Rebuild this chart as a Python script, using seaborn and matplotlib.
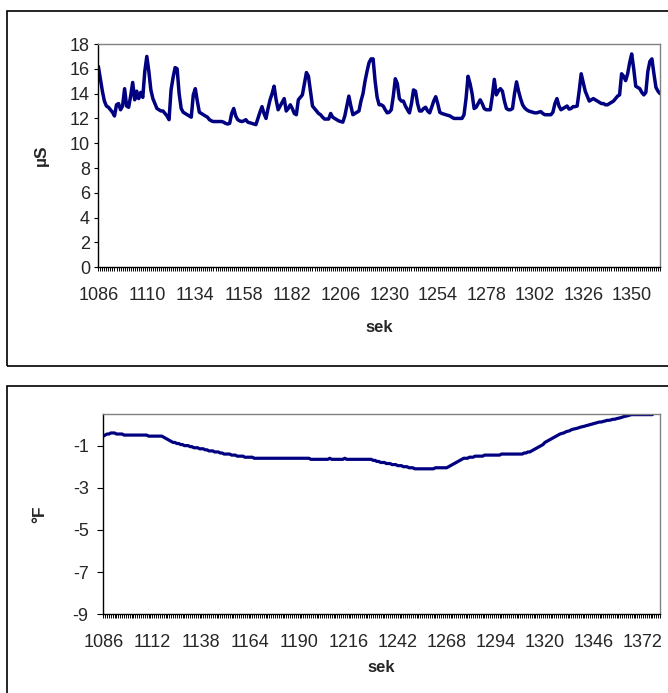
import matplotlib
matplotlib.use('Agg')
import matplotlib.pyplot as plt
import seaborn as sns
import pandas as pd
from matplotlib.patches import Rectangle
from matplotlib.ticker import MultipleLocator

# conductividad (µS) por segundo, desde 1086
us_vals = [
    16.2, 15.2, 14.2, 13.4, 13.0, 12.9, 12.7, 12.5, 12.2, 13.1,
    13.2, 12.7, 13.0, 14.4, 13.0, 12.9, 13.8, 14.9, 13.5, 14.2,
    13.6, 14.1, 13.7, 15.8, 17.0, 15.8, 14.3, 13.6, 13.2, 12.8,
    12.7, 12.6, 12.6, 12.4, 12.2, 11.9, 14.3, 15.3, 16.1, 16.0,
    14.0, 12.8, 12.5, 12.4, 12.3, 12.2, 12.1, 13.9, 14.4, 13.4,
    12.5, 12.4, 12.3, 12.2, 12.1, 11.9, 11.8, 11.75, 11.75, 11.75,
    11.75, 11.75, 11.7, 11.6, 11.55, 11.6, 12.4, 12.8, 12.2, 11.9,
    11.8, 11.75, 11.8, 11.9, 11.7, 11.65, 11.6, 11.55, 11.5, 12.0,
    12.5, 12.95, 12.4, 12.0, 12.8, 13.5, 14.0, 14.6, 13.5, 12.7,
    13.0, 13.3, 13.6, 12.6, 12.8, 13.1, 12.8, 12.4, 12.3, 13.5,
    13.7, 13.9, 14.8, 15.7, 15.4, 14.2, 13.0, 12.8, 12.6, 12.4,
    12.3, 12.1, 11.95, 11.95, 11.95, 12.4, 12.1, 12.0, 11.9, 11.8,
    11.75, 11.7, 12.2, 13.0, 13.8, 13.0, 12.3, 12.4, 12.5, 12.6,
    13.4, 14.0, 15.0, 15.8, 16.5, 16.8, 16.8, 15.0, 13.7, 13.1,
    13.1, 13.0, 12.7, 12.45, 12.5, 12.7, 13.8, 15.2, 14.8, 13.6,
    13.4, 13.4, 13.0, 12.7, 12.45, 13.2, 14.3, 14.2, 13.2, 12.6,
    12.6, 12.8, 12.9, 12.6, 12.45, 12.9, 13.4, 13.75, 13.2, 12.5,
    12.4, 12.35, 12.3, 12.25, 12.2, 12.1, 12.0, 12.0, 12.0, 12.0,
    12.0, 12.3, 13.6, 15.4, 14.8, 14.0, 12.8, 12.9, 13.2, 13.5,
    13.2, 12.8, 12.7, 12.7, 12.7, 13.8, 15.15, 13.9, 14.2, 14.4,
    14.2, 13.4, 12.8, 12.7, 12.7, 12.8, 14.0, 14.95, 14.2, 13.6,
    13.1, 12.85, 12.7, 12.6, 12.55, 12.5, 12.45, 12.45, 12.5, 12.55,
    12.4, 12.3, 12.3, 12.3, 12.3, 12.5, 13.2, 13.6, 13.0, 12.7,
    12.8, 12.9, 13.0, 12.75, 12.8, 12.95, 12.95, 13.0, 14.2, 15.6,
    14.9, 14.2, 13.8, 13.4, 13.5, 13.6, 13.5, 13.4, 13.3, 13.2,
    13.2, 13.1, 13.1, 13.2, 13.3, 13.4, 13.6, 13.8, 13.9, 15.6,
    15.4, 15.05, 15.6, 16.5, 17.2, 16.0, 14.6, 14.5, 14.4, 14.1,
    13.9, 14.1, 15.8, 16.6, 16.8, 15.6, 14.5, 14.2, 14.0,
]

# temperatura (°F) por segundo, desde 1086
f_vals = [
    -0.55, -0.5, -0.45, -0.45, -0.4, -0.4, -0.4, -0.45, -0.45, -0.45, -0.45, -0.5,
    -0.5, -0.5, -0.5, -0.5, -0.5, -0.5, -0.5, -0.5, -0.5, -0.5, -0.5, -0.5,
    -0.55, -0.55, -0.55, -0.55, -0.55, -0.55, -0.55, -0.55,
    -0.6, -0.65, -0.7, -0.75, -0.8, -0.85, -0.85, -0.9,
    -0.9, -0.95, -0.95, -1.0, -1.0, -1.0, -1.05, -1.05, -1.1, -1.1, -1.1, -1.15, -1.15, -1.15,
    -1.2, -1.2, -1.25, -1.25, -1.25, -1.3, -1.3, -1.3, -1.35, -1.35, -1.4, -1.4, -1.4, -1.4,
    -1.45, -1.45, -1.45, -1.5, -1.5, -1.5, -1.5, -1.55, -1.55, -1.55, -1.55, -1.55, -1.6, -1.6, -1.6,
    -1.6, -1.6, -1.6, -1.6, -1.6, -1.6, -1.6, -1.6, -1.6, -1.6, -1.6, -1.6, -1.6, -1.6,
    -1.6, -1.6, -1.6, -1.6, -1.6, -1.6, -1.6, -1.6, -1.6, -1.6, -1.6, -1.6, -1.6,
    -1.65, -1.65, -1.65, -1.65, -1.65, -1.65, -1.65, -1.65, -1.65, -1.65,
    -1.6,
    -1.65, -1.65, -1.65, -1.65, -1.65, -1.65, -1.65,
    -1.6,
    -1.65, -1.65, -1.65, -1.65, -1.65, -1.65, -1.65, -1.65, -1.65, -1.65, -1.65, -1.65, -1.65, -1.65,
    -1.7, -1.7, -1.75, -1.75, -1.8, -1.8, -1.8, -1.85, -1.85, -1.85, -1.9, -1.9,
    -1.9, -1.95, -1.95, -1.95, -2.0, -2.0, -2.0, -2.05, -2.05, -2.05, -2.1, -2.1, -2.1,
    -2.1, -2.1, -2.1, -2.1, -2.1, -2.1, -2.1, -2.1,
    -2.05, -2.05, -2.05, -2.05, -2.05, -2.05, -2.05,
    -2.0, -1.95, -1.9, -1.85, -1.8, -1.75, -1.7, -1.65, -1.6, -1.6,
    -1.6, -1.55, -1.55, -1.55, -1.5, -1.5, -1.5, -1.5, -1.5,
    -1.45, -1.45, -1.45, -1.45, -1.45, -1.45, -1.45, -1.45, -1.45,
    -1.4, -1.4, -1.4, -1.4, -1.4, -1.4, -1.4, -1.4, -1.4, -1.4, -1.4, -1.4,
    -1.35, -1.35, -1.3, -1.3, -1.25, -1.2, -1.15, -1.1, -1.05, -1.0, -0.95,
    -0.85, -0.8, -0.75, -0.7, -0.65, -0.6, -0.55, -0.5, -0.45, -0.42,
    -0.4, -0.35, -0.32, -0.3, -0.25, -0.22, -0.2, -0.18, -0.15, -0.12, -0.1, -0.08,
    -0.05, -0.03, 0.0, 0.02, 0.05, 0.07, 0.1, 0.12,
    0.12, 0.15, 0.17, 0.2, 0.2, 0.22, 0.25, 0.25, 0.28,
    0.3, 0.32, 0.35, 0.38, 0.4, 0.42, 0.45,
    0.47, 0.47, 0.47, 0.47, 0.47, 0.47, 0.47, 0.47, 0.47, 0.47, 0.47, 0.47,
]

start = 1086
df_us = pd.DataFrame({'sek': range(start, start + len(us_vals)), 'val': us_vals})
df_f = pd.DataFrame({'sek': range(start, start + len(f_vals)), 'val': f_vals})

sns.set_style('white')
plt.rcParams['font.family'] = ['Liberation Sans', 'DejaVu Sans']
plt.rcParams['axes.unicode_minus'] = False

navy = '#000080'
fig = plt.figure(figsize=(6.68, 6.93), dpi=100)

# marcos exteriores de cada grafico (estilo Excel)
fig.add_artist(Rectangle((0.010, 0.4719), 1.2, 0.5127, transform=fig.transFigure,
                         fill=False, edgecolor='black', linewidth=1.2))
fig.add_artist(Rectangle((0.010, -0.2), 1.2, 0.643, transform=fig.transFigure,
                         fill=False, edgecolor='black', linewidth=1.2))

ax1 = fig.add_axes([0.1472, 0.6143, 0.8408, 0.3222])
ax2 = fig.add_axes([0.1546, 0.1136, 0.8334, 0.2890])


def excel_axes(ax, x_end, step, ytick_len, ypad):
    for side in ['top', 'right']:
        ax.spines[side].set_color('#808080')
        ax.spines[side].set_linewidth(1.0)
    for side in ['left', 'bottom']:
        ax.spines[side].set_color('black')
        ax.spines[side].set_linewidth(1.0)
    ax.set_xlim(start, x_end)
    ax.set_xticks(range(start, x_end + 1, step))
    ax.xaxis.set_minor_locator(MultipleLocator(1))
    ax.tick_params(axis='x', which='both', direction='out', length=3, width=0.7,
                   color='black', pad=11, labelsize=13, bottom=True)
    ax.tick_params(axis='y', which='major', direction='out', length=ytick_len, width=0.8,
                   color='black', pad=ypad, labelsize=13, left=True)
    ax.grid(False)


sns.lineplot(data=df_us, x='sek', y='val', ax=ax1, color=navy, linewidth=2.5)
excel_axes(ax1, start + len(us_vals) - 1, 24, 3, 3)
ax1.set_ylim(0, 18)
ax1.set_yticks(range(0, 19, 2))
ax1.set_xlabel('sek', fontsize=12, fontweight='bold')
ax1.set_ylabel('µS', fontsize=12.5, fontweight='bold')
ax1.xaxis.set_label_coords(0.5, -0.235)
ax1.yaxis.set_label_coords(-0.088, 0.5)

sns.lineplot(data=df_f, x='sek', y='val', ax=ax2, color=navy, linewidth=2.3)
excel_axes(ax2, 1381, 26, 4.5, 6)
ax2.set_xticks(range(start, 1373, 26))
ax2.set_ylim(-9, 0.5)
ax2.set_yticks([-9, -7, -5, -3, -1])
ax2.set_xlabel('sek', fontsize=12, fontweight='bold')
ax2.set_ylabel('°F', fontsize=12.5, fontweight='bold')
ax2.xaxis.set_label_coords(0.5, -0.23)
ax2.yaxis.set_label_coords(-0.1, 0.5)

plt.savefig('out.png', dpi=100)
